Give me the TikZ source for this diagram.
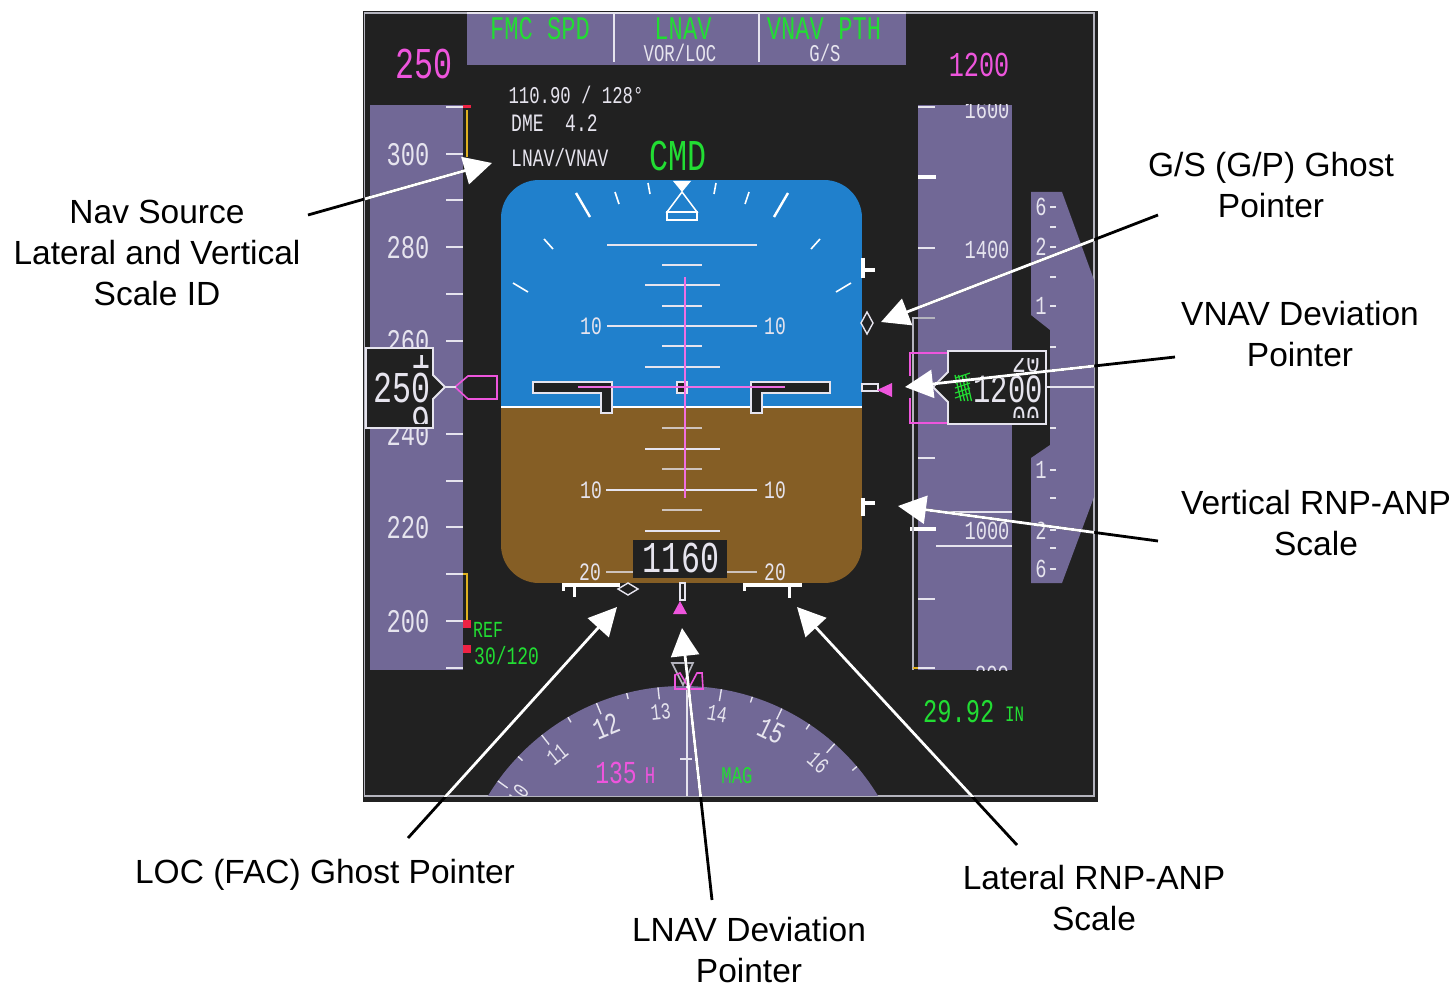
\documentclass[tikz,border=0pt]{standalone}
\usepackage{fontspec}
\setmainfont{Liberation Sans}
\newfontfamily\pfdfont[FakeStretch=0.72]{Liberation Mono}
\usetikzlibrary{arrows.meta}
\definecolor{panelblk}{HTML}{212121}
\definecolor{tapepur}{HTML}{716896}
\definecolor{skyblue}{HTML}{2080CC}
\definecolor{gndbrown}{HTML}{855E25}
\definecolor{pfdgrn}{HTML}{22DD33}
\definecolor{pfdmag}{HTML}{EE55DD}
\definecolor{pfdwht}{HTML}{E6E4EE}
\definecolor{rimgray}{HTML}{B4B4BE}
\definecolor{pfdred}{HTML}{EE2244}
\definecolor{pfdylw}{HTML}{E0B020}
\tikzset{
  dsp/.style={font=\pfdfont\fontsize{#1}{#1}\selectfont, inner sep=0pt},
  calltxt/.style={font=\fontsize{33.5}{41}\selectfont, align=center, inner sep=0pt, text=black},
  tickln/.style={pfdwht, line width=2pt},
  leaderblk/.style={black, line width=2.8pt, shorten >=12pt},
  leaderwht/.style={white, line width=2.8pt, -{Triangle[length=28pt,width=28pt,fill=white]}},
}
\begin{document}
\begin{tikzpicture}[x=1pt, y=-1pt]
  \useasboundingbox (0,0) rectangle (1453,984);

  \fill[panelblk] (363,11) rectangle (1098,802);
  \draw[rimgray, line width=1.6pt] (364.5,13) rectangle (1094,796);

  \fill[tapepur] (467,12) rectangle (906,65);
  \draw[pfdwht, line width=1.6pt] (467,13) -- (906,13);
  \draw[pfdwht, line width=1.6pt] (614,13) -- (614,62);
  \draw[pfdwht, line width=1.6pt] (759,13) -- (759,62);
  \node[dsp=33, text=pfdgrn] (fmaspd) at (540,29) {FMC SPD};
  \node[dsp=33, text=pfdgrn] (fmalnav) at (683,29) {LNAV};
  \node[dsp=33, text=pfdgrn] (fmavnav) at (824,29) {VNAV PTH};
  \node[dsp=24, text=pfdwht] (fmaloc) at (680,53) {VOR/LOC};
  \node[dsp=24, text=pfdwht] (fmags) at (825,53) {G/S};
  \node[dsp=44, text=pfdmag] (selspd) at (424,64) {250};
  \node[dsp=35, text=pfdmag] (selalt) at (979,65) {1200};

  \node[dsp=24, text=pfdwht] (navfreq) at (576,95) {110.90 / 128°};
  \node[dsp=25, text=pfdwht, anchor=west] (navdme) at (511,123) {DME\ \ 4.2};
  \node[dsp=25, text=pfdwht, anchor=west] (navsrc) at (511,158) {LNAV/VNAV};
  \node[dsp=44, text=pfdgrn] (cmdtxt) at (678,156) {CMD};

  % speed tape
  \fill[tapepur] (370,105) rectangle (463,670);
  \foreach \y in {107,200,294,341,434,481,574,668}
    \draw[tickln] (446,\y) -- (463,\y);
  \foreach \s/\y in {300/154,280/247,220/527,200/621}
    \draw[tickln] (446,\y) -- (463,\y);
  \foreach \s/\y in {300/155,280/248,260/342,240/435,220/528,200/622}
    \node[dsp=33, text=pfdwht] (spd\s) at (408,\y) {\s};
  \draw[pfdylw, line width=1.8pt] (467,110) -- (467,157);
  \draw[pfdylw, line width=1.8pt] (463,574) -- (467,574) -- (467,621);
  \fill[pfdred] (463,105) rectangle (471,108);
  \fill[pfdred] (463,620) rectangle (471,628);
  \fill[pfdred] (463,645) rectangle (471,653);
  \node[dsp=23, text=pfdgrn, anchor=west] (reftxt) at (473,630) {REF};
  \node[dsp=25, text=pfdgrn, anchor=west] (flaptxt) at (474,656) {30/120};

  \draw[pfdmag, line width=1.6pt] (455,387) -- (468,376) -- (497,376) -- (497,399) -- (468,399) -- cycle;
  \draw[pfdwht, line width=1.6pt] (445,387) -- (456,387);
  \draw[pfdwht, line width=1.8pt, fill=panelblk] (366,348) -- (433,348) -- (433,375) -- (445,387) -- (433,399) -- (433,428) -- (366,428) -- cycle;
  \node[dsp=44, text=pfdwht] (curspd) at (402,388) {250};
  \begin{scope}
    \clip (366,355) rectangle (433,423);
    \node[dsp=44, text=pfdwht] (spdup) at (421,354) {1};
    \node[dsp=44, text=pfdwht] (spddn) at (421,422) {9};
  \end{scope}

  % attitude sphere
  \begin{scope}
    \clip[rounded corners=38pt] (501,180) rectangle (862,583);
    \fill[skyblue] (501,180) rectangle (862,407);
    \fill[gndbrown] (501,407) rectangle (862,583);
  \end{scope}
  \draw[white, line width=2pt] (501,407) -- (862,407);

  \foreach \y in {245,326}
    \draw[pfdwht, line width=1.5pt] (607,\y) -- (757,\y);
  \foreach \y in {265,306,346}
    \draw[pfdwht, line width=1.5pt] (662,\y) -- (702,\y);
  \foreach \y in {285,367}
    \draw[pfdwht, line width=1.5pt] (645,\y) -- (720,\y);
  \foreach \y in {428,469,510}
    \draw[pfdwht!75!gndbrown, line width=1.5pt] (662,\y) -- (702,\y);
  \foreach \y in {449,531}
    \draw[pfdwht, line width=1.5pt] (645,\y) -- (720,\y);
  \draw[pfdwht, line width=1.5pt] (606,490) -- (757,490);
  \draw[pfdwht!75!gndbrown, line width=1.5pt] (606,572) -- (757,572);
  \node[dsp=25, text=pfdwht] (pitchuL) at (591,326) {10};
  \node[dsp=25, text=pfdwht] (pitchuR) at (775,326) {10};
  \node[dsp=25, text=pfdwht] (pitchdL) at (591,490) {10};
  \node[dsp=25, text=pfdwht] (pitchdR) at (775,490) {10};
  \node[dsp=25, text=pfdwht] (pitchfL) at (590,572) {20};
  \node[dsp=25, text=pfdwht] (pitchfR) at (775,572) {20};

  \draw[white, line width=2.4pt] (576,193) -- (590,217);
  \draw[white, line width=2.4pt] (788,193) -- (774,217);
  \foreach \xa/\ya/\xb/\yb in {615/192/619/204,648/183/650/194,544/239/553/249,513/283/528/292,749/192/745/204,716/183/714/194,820/239/811/249,851/283/836/292}
    \draw[white, line width=1.6pt] (\xa,\ya) -- (\xb,\yb);
  \fill[white] (673,181) -- (691,181) -- (682,192) -- cycle;
  \draw[white, line width=1.5pt] (682,192) -- (667,212) -- (697,212) -- cycle;
  \draw[white, line width=1.5pt] (667,212) rectangle (697,220);

  \draw[pfdwht, line width=1.4pt, fill=panelblk] (533,382) -- (612,382) -- (612,413) -- (601,413) -- (601,393) -- (533,393) -- cycle;
  \draw[pfdwht, line width=1.4pt, fill=panelblk] (830,382) -- (751,382) -- (751,413) -- (762,413) -- (762,393) -- (830,393) -- cycle;
  \draw[pfdwht, line width=1.4pt, fill=panelblk] (677,382) rectangle (687,393);
  \draw[pfdmag!85!white, line width=2.8pt] (685,277) -- (685,498);
  \draw[pfdmag!85!white, line width=2.8pt] (578,387) -- (785,387);

  \fill[panelblk] (633,540) rectangle (727,578);
  \node[dsp=44, text=pfdwht] (radalt) at (681,558) {1160};

  % deviation scales
  \draw[white, line width=3.6pt] (863,258) -- (863,278);
  \draw[white, line width=3.6pt] (863,270) -- (875,270);
  \draw[white, line width=3.6pt] (863,498) -- (863,516);
  \draw[white, line width=3.6pt] (863,503) -- (875,503);
  \draw[pfdwht, line width=1.4pt] (867,312) -- (873,323) -- (867,334) -- (861,323) -- cycle;
  \draw[pfdwht, line width=1.4pt] (862,384) rectangle (878,391);
  \fill[pfdmag] (877,390) -- (892,383) -- (892,397) -- cycle;

  \draw[white, line width=4pt] (562,585) -- (620,585);
  \draw[white, line width=3pt] (574,585) -- (574,597);
  \draw[white, line width=3pt] (563,585) -- (563,591);
  \draw[pfdwht, line width=1.4pt] (618,589) -- (628,583) -- (638,589) -- (628,595) -- cycle;
  \draw[pfdwht, line width=1.4pt] (680,583) rectangle (685,600);
  \fill[pfdmag] (680,601) -- (687,614) -- (673,614) -- cycle;
  \draw[white, line width=4pt] (743,585) -- (802,585);
  \draw[white, line width=3pt] (789,585) -- (789,598);
  \draw[white, line width=3pt] (744,585) -- (744,591);

  % altitude tape
  \fill[tapepur] (918,105) rectangle (1012,670);
  \foreach \y in {107,248,458,599,668}
    \draw[tickln] (918,\y) -- (935,\y);
  \draw[white, line width=3.6pt] (918,177) -- (936,177);
  \draw[white, line width=3.6pt] (910,529) -- (936,529);
  \draw[rimgray, line width=1.8pt] (935,318) -- (913,318) -- (913,670);
  \draw[pfdylw, line width=1.8pt] (913,668) -- (918,668);
  \draw[pfdwht, line width=1.6pt] (940,512) -- (1012,512);
  \draw[pfdwht, line width=1.6pt] (936,546) -- (1012,546);
  \begin{scope}
    \clip (918,105) rectangle (1012,670);
    \node[dsp=26, text=pfdwht] (alt1600) at (987,110) {1600};
    \node[dsp=26, text=pfdwht] (alt800) at (992,675) {800};
  \end{scope}
  \node[dsp=26, text=pfdwht] (alt1400) at (987,250) {1400};
  \node[dsp=26, text=pfdwht] (alt1000) at (987,531) {1000};

  % vertical speed
  \fill[tapepur] (1031,192) -- (1062,192) -- (1094,280) -- (1094,497) -- (1062,583) -- (1031,583) -- (1031,458) -- (1050,445) -- (1050,330) -- (1031,315) -- cycle;
  \foreach \s/\y in {6/207,2/247,1/306,1/470,2/531,6/569}
    \node[dsp=26, text=pfdwht] at (1041,\y) {\s};
  \foreach \y in {207,227,247,277,306,347,428,470,498,530,548,569}
    \draw[pfdwht, line width=1.5pt] (1050,\y) -- (1056,\y);
  \draw[pfdwht, line width=1.6pt] (1046,387) -- (1094,387);

  \draw[pfdmag, line width=1.6pt] (948,353) -- (910,353) -- (910,376);
  \draw[pfdmag, line width=1.6pt] (910,398) -- (910,423) -- (948,423);
  \draw[pfdwht, line width=1.8pt, fill=panelblk] (948,351) -- (1046,351) -- (1046,424) -- (948,424) -- (948,402) -- (933,387) -- (948,372) -- cycle;
  \node[dsp=40, text=pfdwht] (curalt) at (1008,389) {1200};
  \begin{scope}
    \clip (950,358) rectangle (1044,417);
    \node[dsp=32, text=pfdwht] (altup) at (1026,362) {20};
    \node[dsp=32, text=pfdwht] (altdn) at (1026,418) {00};
  \end{scope}
  \foreach \i in {0,1,2,3}
    \draw[pfdgrn, line width=1.3pt] (955+\i*3.5,375) -- (961+\i*3.5,401);
  \foreach \i in {0,1,2,3,4}
    \draw[pfdgrn, line width=1.1pt] (955,378+\i*5) -- (970,373+\i*5);

  \node[dsp=33, text=pfdgrn, anchor=west] (baroval) at (923,712) {29.92};
  \node[dsp=22, text=pfdgrn, anchor=west] (barounit) at (1005,714) {IN};

  % heading
  \begin{scope}
    \clip (370,600) rectangle (1090,795);
    \fill[tapepur] (683,914) circle[radius=228pt];
    \foreach \a in {-54.3,-38.3,-22.3,-6.3,9.7,25.7,41.7}
      \draw[pfdwht, line width=1.4pt] ({683+228*sin(\a)},{914-228*cos(\a)}) -- ({683+216*sin(\a)},{914-216*cos(\a)});
    \foreach \a in {-46.3,-30.3,-14.3,1.7,17.7,33.7,49.7}
      \draw[pfdwht, line width=1.4pt] ({683+228*sin(\a)},{914-228*cos(\a)}) -- ({683+222*sin(\a)},{914-222*cos(\a)});
    \foreach \t/\a/\z in {10/-54.3/23,11/-38.3/23,12/-22.3/30,13/-6.3/23,14/9.7/23,15/25.7/30,16/41.7/23}
      \node[dsp=\z, text=pfdwht, rotate=-\a] (hdg\t) at ({683+203*sin(\a)},{914-203*cos(\a)}) {\t};
    \draw[pfdwht, line width=1.6pt] (687,686) -- (687,796);
    \draw[pfdwht, line width=1.4pt] (680,759) -- (692,759);
  \end{scope}
  \draw[rimgray, line width=1.6pt] (672,663) -- (693,663) -- (683,685) -- cycle;
  \draw[pfdmag, line width=1.6pt] (675,689) -- (675,675) -- (680,673) -- (689,688) -- (697,673) -- (702,673) -- (703,689) -- cycle;
  \node[dsp=32, text=pfdmag] (hdgval) at (616,773) {135};
  \node[dsp=24, text=pfdmag] (hdgunit) at (650,776) {H};
  \node[dsp=24, text=pfdgrn] (hdgmag) at (737,776) {MAG};

  % callouts
  \node[calltxt] (navlbl) at (157,253) {Nav Source\\Lateral and Vertical\\Scale ID};
  \node[calltxt] (gslbl) at (1271,185) {G/S (G/P) Ghost\\Pointer};
  \node[calltxt] (vnavlbl) at (1300,334) {VNAV Deviation\\Pointer};
  \node[calltxt] (vrnplbl) at (1316,523) {Vertical RNP-ANP\\Scale};
  \node[calltxt] (loclbl) at (325,875) {LOC (FAC) Ghost Pointer};
  \node[calltxt] (lnavlbl) at (749,950) {LNAV Deviation\\Pointer};
  \node[calltxt] (lrnplbl) at (1094,898) {Lateral RNP-ANP\\Scale};

  \coordinate (navend) at (308,215);
  \coordinate (gsend) at (1158,215);
  \coordinate (vnavend) at (1175,357);
  \coordinate (vrnpend) at (1158,541);
  \coordinate (locend) at (408,838);
  \coordinate (lnavend) at (712,900);
  \coordinate (lrnpend) at (1017,845);
  \coordinate (navtip) at (492,163);
  \coordinate (gstip) at (881,322);
  \coordinate (vnavtip) at (905,387);
  \coordinate (vrnptip) at (898,506);
  \coordinate (loctip) at (617,607);
  \coordinate (lnavtip) at (682,628);
  \coordinate (lrnptip) at (797,607);

  \foreach \a/\b in {navend/navtip,gsend/gstip,vnavend/vnavtip,vrnpend/vrnptip,locend/loctip,lnavend/lnavtip,lrnpend/lrnptip}
    \draw[leaderblk] (\a) -- (\b);
  \begin{scope}
    \clip (364.5,13) rectangle (1094,796);
    \foreach \a/\b in {navend/navtip,gsend/gstip,vnavend/vnavtip,vrnpend/vrnptip,locend/loctip,lnavend/lnavtip,lrnpend/lrnptip}
      \draw[leaderwht] (\a) -- (\b);
  \end{scope}
\end{tikzpicture}
\end{document}
